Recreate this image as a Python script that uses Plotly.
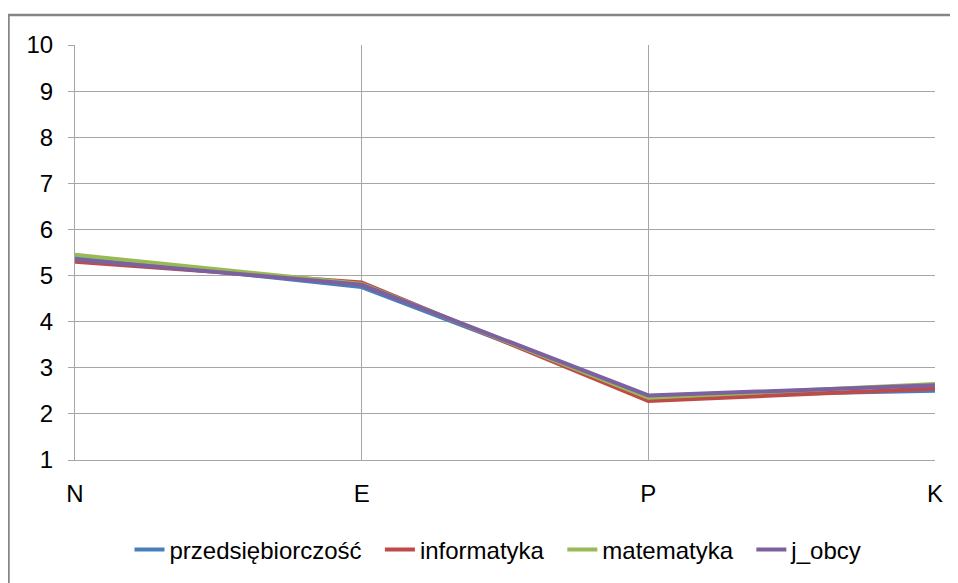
import plotly.graph_objects as go

categories = ["N", "E", "P", "K"]
przedsiebiorczosc = [5.42, 4.75, 2.38, 2.50]
informatyka = [5.30, 4.85, 2.28, 2.55]
matematyka = [5.45, 4.82, 2.35, 2.65]
j_obcy = [5.35, 4.80, 2.40, 2.62]
y_ticks = list(range(1, 11))

series = [
    ("przedsiębiorczość", przedsiebiorczosc, "#4A7EBB"),
    ("informatyka", informatyka, "#BE4B48"),
    ("matematyka", matematyka, "#98B954"),
    ("j_obcy", j_obcy, "#7D60A0"),
]

fig = go.Figure()
for name, vals, col in series:
    fig.add_trace(go.Scatter(x=list(range(len(categories))), y=vals, name=name + "  ", mode="lines",
                             line=dict(color=col, width=4)))

# page has an 8px body margin, so figure coords = page coords - 8
W, H = 950, 575
L, R, T, B = 67, 23, 37, 122
pw, ph = W - L - R, H - T - B

def px(x):
    return (x - L) / pw

def py(y):
    return (H - B - y) / ph

fig.update_layout(
    width=W, height=H,
    margin=dict(l=L, r=R, t=T, b=B),
    paper_bgcolor="white", plot_bgcolor="white",
    font=dict(family="Liberation Sans, Arial, sans-serif", size=24, color="#000000"),
    showlegend=True,
    legend=dict(orientation="h", x=0.5, xanchor="center", y=py(542), yanchor="middle",
                font=dict(size=24), tracegroupgap=0),
    xaxis=dict(range=[0, 3], tickmode="array", tickvals=list(range(len(categories))),
               ticktext=categories, showgrid=True, gridcolor="#A6A6A6", gridwidth=1,
               showline=True, linecolor="#A6A6A6", linewidth=1, ticks="", zeroline=False,
               ticklabelstandoff=12),
    yaxis=dict(range=[1, 10], tickmode="array", tickvals=y_ticks, showgrid=True,
               gridcolor="#A6A6A6", gridwidth=1, showline=True, linecolor="#A6A6A6",
               linewidth=1, ticks="outside", ticklen=6, tickcolor="#A6A6A6", zeroline=False,
               ticklabelstandoff=10),
    shapes=[dict(type="rect", xref="paper", yref="paper", x0=px(0.5), x1=px(975),
                 y0=py(600), y1=py(7), line=dict(color="#868686", width=2.5),
                 fillcolor="rgba(0,0,0,0)", layer="below")],
)

fig.write_html("out.html")
